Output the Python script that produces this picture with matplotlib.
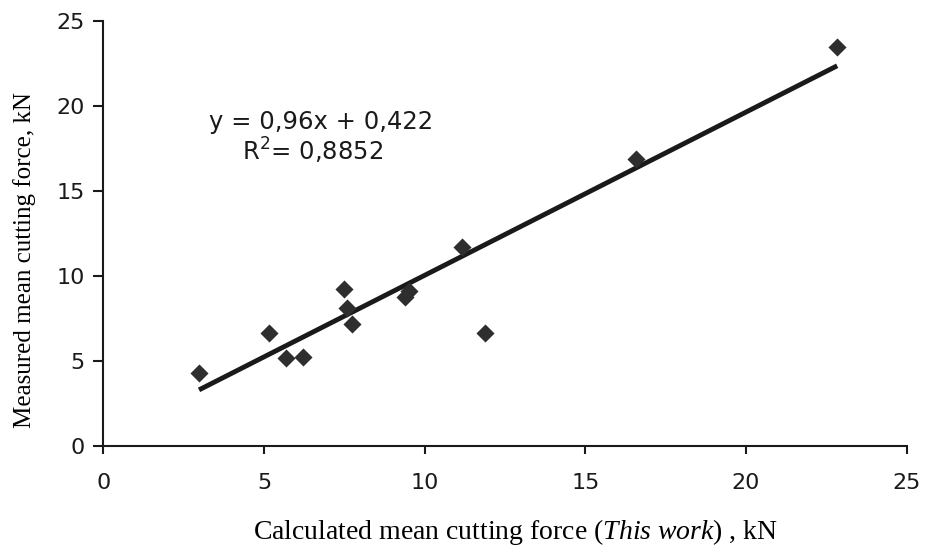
import matplotlib
matplotlib.use("Agg")
import matplotlib.pyplot as plt
import numpy as np

# calculated (this work) vs measured mean cutting force, kN
calc = [2.98, 5.16, 5.69, 6.21, 7.50, 7.57, 7.75, 9.40, 9.50, 11.16, 11.88, 16.58, 22.84]
meas = [4.26, 6.65, 5.14, 5.24, 9.22, 8.08, 7.14, 8.75, 9.10, 11.67, 6.61, 16.85, 23.43]

slope = 0.96
intercept = 0.422
eq_text = "y = 0,96x + 0,422"
r2_text = r"R$^{2}$= 0,8852"

ticks = [0, 5, 10, 15, 20, 25]

plt.rcParams['mathtext.rm'] = 'Liberation Serif'
plt.rcParams['mathtext.it'] = 'Liberation Serif:italic'

fig = plt.figure(figsize=(9.33, 5.48), dpi=100)
ax = fig.add_axes([0.1107, 0.1867, 0.8610, 0.7755])

ax.scatter(calc, meas, marker='D', s=85, color='#2e2e2e', zorder=3, linewidths=0)

xs = np.array([min(calc), max(calc)])
ax.plot(xs, slope * xs + intercept, color='#1a1a1a', lw=3.5, solid_capstyle='butt', zorder=2)

ax.set_xlim(0, 25)
ax.set_ylim(0, 25)
ax.set_xticks(ticks)
ax.set_yticks(ticks)

for side in ['top', 'right']:
    ax.spines[side].set_visible(False)
for side in ['left', 'bottom']:
    ax.spines[side].set_linewidth(1.5)
    ax.spines[side].set_color('#1a1a1a')

ax.tick_params(axis='x', direction='out', length=6, width=1.5, pad=14,
               labelsize=16, colors='#1a1a1a')
ax.tick_params(axis='y', direction='out', length=7.5, width=1.5, pad=6,
               labelsize=16, colors='#1a1a1a')

ax.text(6.78, 19.06, eq_text, ha='center', va='center', fontsize=17.5, color='#1a1a1a')
ax.text(6.50, 17.36, r2_text, ha='center', va='center', fontsize=17.5, color='#1a1a1a',
        math_fontfamily='dejavusans')

fig.text(0.026, 0.526, "Measured mean cutting force, kN", rotation=90,
         ha='center', va='center', fontsize=18, family='Liberation Serif')
fig.text(0.553, 0.029, r"Calculated mean cutting force $\mathit{(This\ work)}$ , kN",
         ha='center', va='center', fontsize=20, family='Liberation Serif',
         math_fontfamily='custom')

fig.savefig("out.png", dpi=100)
